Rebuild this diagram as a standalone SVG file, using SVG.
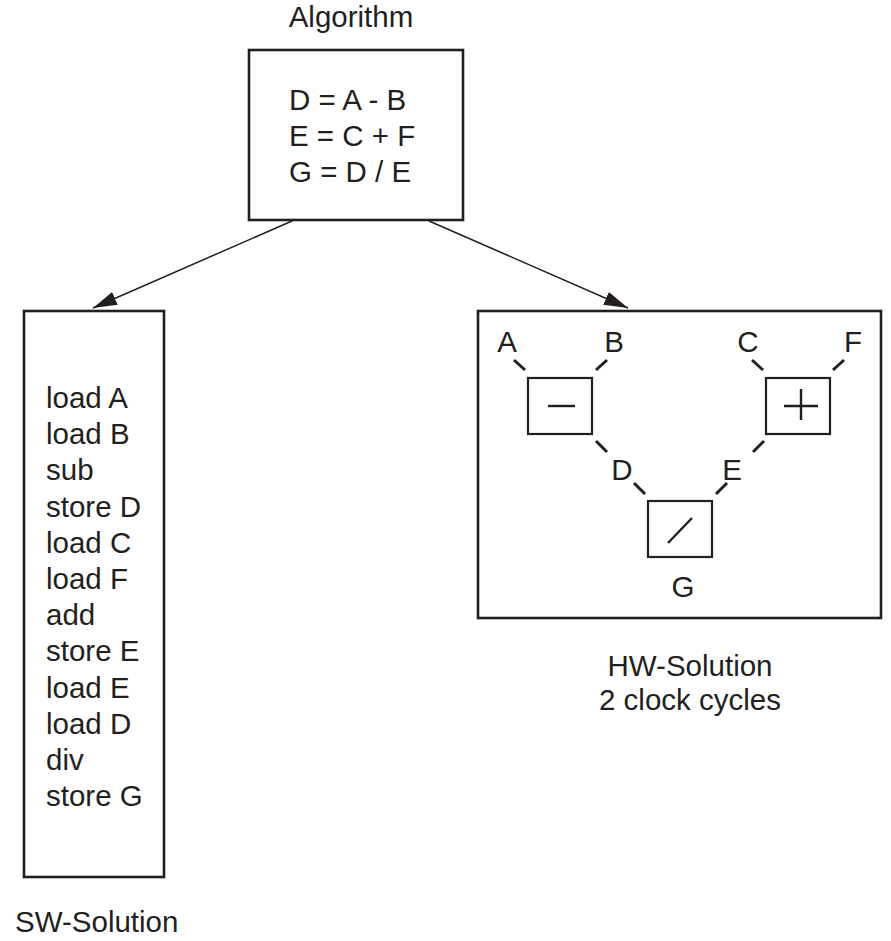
<svg xmlns="http://www.w3.org/2000/svg" width="891" height="941" viewBox="0 0 891 941">
<defs>
<style>
text{font-family:"Liberation Sans",Arial,sans-serif;font-size:29.5px;fill:#231f20}
.box{fill:#fff;stroke:#231f20;stroke-width:2.6}
.op{fill:#fff;stroke:#231f20;stroke-width:2.2}
.sym{stroke:#231f20;stroke-width:2.4;fill:none}
.dash{stroke:#231f20;stroke-width:3;fill:none}
.conn{stroke:#231f20;stroke-width:1.5;fill:none}
.mid{text-anchor:middle}
</style>
<marker id="arr" viewBox="0 0 24 14" refX="24" refY="7" markerWidth="24" markerHeight="14" markerUnits="userSpaceOnUse" orient="auto">
<path d="M0,0 L24,7 L0,14 Z" fill="#231f20"/>
</marker>
</defs>
<rect width="891" height="941" fill="#fff"/>
<g id="algorithm">
<text x="351" y="27" class="mid">Algorithm</text>
<rect class="box" x="249" y="50" width="214" height="170"/>
<text x="289" y="110">D = A - B</text>
<text x="289" y="146">E = C + F</text>
<text x="289" y="182">G = D / E</text>
</g>
<g id="connectors">
<line class="conn" x1="292" y1="221" x2="93" y2="308" marker-end="url(#arr)"/>
<line class="conn" x1="429" y1="221" x2="628" y2="308" marker-end="url(#arr)"/>
</g>
<g id="sw-solution">
<rect class="box" x="24" y="311" width="140" height="566"/>
<text x="46" y="408">load A</text>
<text x="46" y="444">load B</text>
<text x="46" y="480">sub</text>
<text x="46" y="517">store D</text>
<text x="46" y="553">load C</text>
<text x="46" y="589">load F</text>
<text x="46" y="625">add</text>
<text x="46" y="661">store E</text>
<text x="46" y="698">load E</text>
<text x="46" y="734">load D</text>
<text x="46" y="770">div</text>
<text x="46" y="806">store G</text>
<text x="15" y="932">SW-Solution</text>
</g>
<g id="hw-solution">
<rect class="box" x="478" y="311" width="403" height="307"/>
<text x="690" y="676" class="mid">HW-Solution</text>
<text x="690" y="710" class="mid">2 clock cycles</text>
</g>
<g id="sub-unit">
<rect class="op" x="528" y="378" width="64" height="56"/>
<line class="sym" x1="548" y1="406" x2="575" y2="406"/>
<text x="507" y="352" class="mid">A</text>
<text x="614" y="352" class="mid">B</text>
<line class="dash" x1="514" y1="360" x2="525" y2="370"/>
<line class="dash" x1="596" y1="370" x2="607" y2="360"/>
</g>
<g id="add-unit">
<rect class="op" x="766" y="378" width="64" height="56"/>
<line class="sym" x1="784" y1="406" x2="818" y2="406"/>
<line class="sym" x1="801" y1="389" x2="801" y2="420"/>
<text x="748" y="352" class="mid">C</text>
<text x="853" y="352" class="mid">F</text>
<line class="dash" x1="752" y1="360" x2="763" y2="370"/>
<line class="dash" x1="833" y1="370" x2="844" y2="360"/>
</g>
<g id="div-unit">
<rect class="op" x="648" y="501" width="64" height="56"/>
<line class="sym" x1="668" y1="543" x2="692" y2="518"/>
<text x="622" y="480" class="mid">D</text>
<text x="732" y="480" class="mid">E</text>
<text x="683" y="597" class="mid">G</text>
<line class="dash" x1="596" y1="441" x2="607" y2="452"/>
<line class="dash" x1="753" y1="452" x2="764" y2="441"/>
<line class="dash" x1="634" y1="483" x2="645" y2="494"/>
<line class="dash" x1="716" y1="494" x2="727" y2="483"/>
</g>
</svg>
